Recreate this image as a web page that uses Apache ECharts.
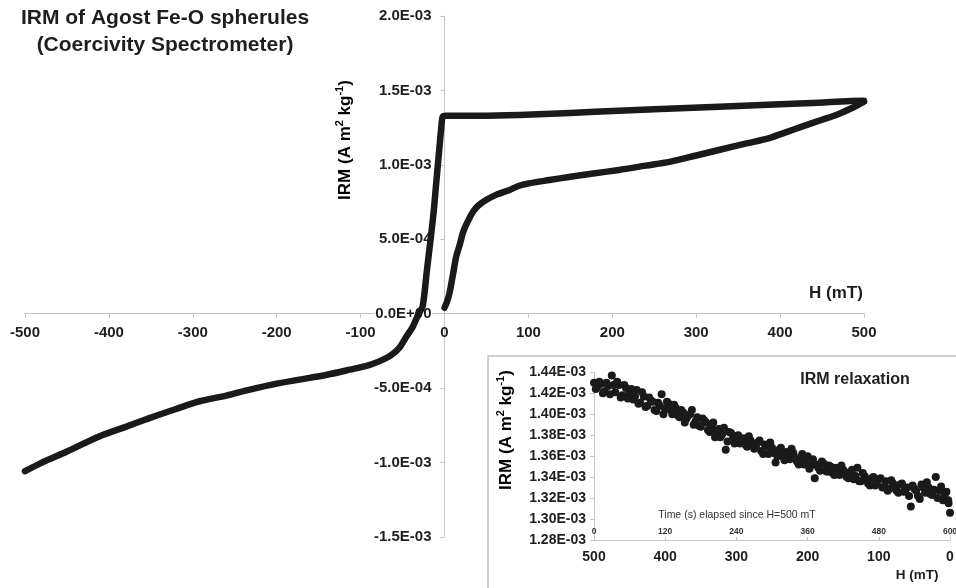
<!DOCTYPE html>
<html>
<head>
<meta charset="utf-8">
<script src="https://cdn.jsdelivr.net/npm/echarts@6/dist/echarts.min.js"></script>
<style>html,body{margin:0;padding:0;background:#fff}#c{width:956px;height:588px}</style>
</head>
<body>
<div id="c"></div>
<script>
// IRM values are given in units of 1E-03 A m2 kg-1
// Acquisition branch (0 -> 500 mT)
var acqH   = [0, 3, 6, 10, 14, 18, 22, 26, 30, 34, 40, 50, 62, 77, 89, 100, 125, 150, 175, 208, 240, 268, 300, 327, 360, 387, 410, 426, 450, 467, 485, 500];
var acqIRM = [0.04, 0.08, 0.14, 0.26, 0.385, 0.46, 0.545, 0.60, 0.645, 0.685, 0.725, 0.765, 0.80, 0.83, 0.86, 0.875, 0.898, 0.92, 0.94, 0.966, 0.995, 1.02, 1.063, 1.10, 1.144, 1.18, 1.225, 1.257, 1.303, 1.335, 1.38, 1.425];
// Field sweep branch (500 -> -500 mT)
var swpH   = [500, 480, 446, 400, 327, 250, 208, 150, 89, 40, 10, 2, -2, -4, -6, -10, -13, -17, -21, -26, -30, -34, -38, -45, -54, -64, -74, -90, -113, -140, -173, -200, -232, -260, -292, -320, -351, -380, -411, -450, -480, -500];
var swpIRM = [1.43, 1.428, 1.418, 1.407, 1.39, 1.373, 1.364, 1.349, 1.335, 1.33, 1.33, 1.33, 1.325, 1.24, 1.12, 0.87, 0.68, 0.48, 0.29, 0.05, 0.01, -0.04, -0.09, -0.15, -0.23, -0.28, -0.31, -0.345, -0.376, -0.41, -0.443, -0.47, -0.51, -0.55, -0.588, -0.64, -0.70, -0.76, -0.823, -0.926, -1.0, -1.058];
// Relaxation inset, readings at whole 5 mT steps (500 -> 0)
var relaxH = [500,495,490,485,480,475,470,465,460,455,450,445,440,435,430,425,420,415,410,405,400,395,390,385,380,375,370,365,360,355,350,345,340,335,330,325,320,315,310,305,300,295,290,285,280,275,270,265,260,255,250,245,240,235,230,225,220,215,210,205,200,195,190,185,180,175,170,165,160,155,150,145,140,135,130,125,120,115,110,105,100,95,90,85,80,75,70,65,60,55,50,45,40,35,30,25,20,15,10,5,2,0];
var relaxIRM = [1.430,1.426,1.429,1.422,1.427,1.437,1.421,1.428,1.418,1.425,1.420,1.414,1.423,1.411,1.417,1.408,1.413,1.404,1.411,1.419,1.405,1.410,1.400,1.406,1.397,1.402,1.396,1.400,1.390,1.397,1.388,1.394,1.385,1.389,1.378,1.386,1.381,1.366,1.383,1.376,1.379,1.372,1.377,1.369,1.375,1.367,1.373,1.365,1.371,1.362,1.368,1.354,1.366,1.360,1.364,1.357,1.363,1.355,1.359,1.352,1.360,1.351,1.339,1.349,1.355,1.346,1.351,1.344,1.349,1.342,1.347,1.340,1.345,1.338,1.349,1.336,1.341,1.334,1.339,1.332,1.338,1.330,1.336,1.329,1.334,1.327,1.333,1.326,1.330,1.312,1.329,1.322,1.333,1.325,1.330,1.323,1.340,1.327,1.318,1.326,1.315,1.306];
// Relaxation inset, readings at half steps (497.5 -> 2.5)
var relaxH2 = [497.5,492.5,487.5,482.5,477.5,472.5,467.5,462.5,457.5,452.5,447.5,442.5,437.5,432.5,427.5,422.5,417.5,412.5,407.5,402.5,397.5,392.5,387.5,382.5,377.5,372.5,367.5,362.5,357.5,352.5,347.5,342.5,337.5,332.5,327.5,322.5,317.5,312.5,307.5,302.5,297.5,292.5,287.5,282.5,277.5,272.5,267.5,262.5,257.5,252.5,247.5,242.5,237.5,232.5,227.5,222.5,217.5,212.5,207.5,202.5,197.5,192.5,187.5,182.5,177.5,172.5,167.5,162.5,157.5,152.5,147.5,142.5,137.5,132.5,127.5,122.5,117.5,112.5,107.5,102.5,97.5,92.5,87.5,82.5,77.5,72.5,67.5,62.5,57.5,52.5,47.5,42.5,37.5,32.5,27.5,22.5,17.5,12.5,7.5,2.5];
var relaxIRM2 = [1.424,1.431,1.420,1.430,1.419,1.428,1.431,1.416,1.428,1.415,1.424,1.417,1.410,1.421,1.407,1.416,1.412,1.403,1.408,1.400,1.412,1.404,1.409,1.399,1.404,1.392,1.399,1.404,1.393,1.389,1.396,1.392,1.383,1.392,1.384,1.378,1.387,1.374,1.382,1.372,1.380,1.376,1.371,1.379,1.372,1.368,1.375,1.362,1.369,1.373,1.363,1.360,1.368,1.356,1.362,1.367,1.358,1.352,1.362,1.356,1.348,1.357,1.352,1.346,1.353,1.345,1.350,1.342,1.348,1.351,1.343,1.339,1.347,1.341,1.336,1.344,1.338,1.332,1.340,1.335,1.339,1.331,1.327,1.337,1.331,1.325,1.334,1.328,1.322,1.332,1.327,1.319,1.330,1.335,1.324,1.328,1.320,1.331,1.323,1.318];

// Tick labels
var mainYTicks  = [-1.5, -1.0, -0.5, 0, 0.5, 1.0, 1.5, 2.0];
var mainYLabels = ['-1.5E-03', '-1.0E-03', '-5.0E-04', '0.0E+00', '5.0E-04', '1.0E-03', '1.5E-03', '2.0E-03'];
var insetYTicks  = [1.28, 1.30, 1.32, 1.34, 1.36, 1.38, 1.40, 1.42, 1.44];
var insetYLabels = ['1.28E-03', '1.30E-03', '1.32E-03', '1.34E-03', '1.36E-03', '1.38E-03', '1.40E-03', '1.42E-03', '1.44E-03'];

function pick(ticks, labels) {
  return function (v) {
    for (var i = 0; i < ticks.length; i++) if (Math.abs(ticks[i] - v) < 1e-6) return labels[i];
    return '';
  };
}
function zip(a, b) { return a.map(function (x, i) { return [x, b[i]]; }); }

var FF = '"Liberation Sans", Arial, sans-serif';
var AX = '#c6c6c6';
var TXT = '#1e1e1e';

// main grid geometry
var G = { left: 25, right: 92, top: 16, bottom: 51 };
var W = 956, H = 588;
var gW = W - G.left - G.right, gH = H - G.top - G.bottom;
var xMin = -500, xMax = 500, yMin = -1.5, yMax = 2.0;
var yAxisOffset = -gW * (0 - xMin) / (xMax - xMin);   // move y axis to H = 0
var xAxisOffset = -gH * (0 - yMin) / (yMax - yMin);   // move x axis to IRM = 0

var chart = echarts.init(document.getElementById('c'), null, { renderer: 'canvas' });
chart.setOption({
  animation: false,
  backgroundColor: '#fff',
  grid: [
    { left: G.left, right: G.right, top: G.top, bottom: G.bottom, outerBoundsMode: 'none', containLabel: false },
    { left: 594, right: 6, top: 372.3, bottom: 48, outerBoundsMode: 'none', containLabel: false },
    { left: 594, right: 6, top: 372.3, bottom: 48, outerBoundsMode: 'none', containLabel: false }
  ],
  xAxis: [
    { type: 'value', gridIndex: 0, min: xMin, max: xMax, interval: 100, position: 'bottom', offset: xAxisOffset,
      axisLine: { onZero: false, lineStyle: { color: AX } },
      axisTick: { length: 4, lineStyle: { color: AX } },
      axisLabel: { fontSize: 15, fontWeight: 'bold', fontFamily: FF, color: TXT, margin: 12 },
      splitLine: { show: false } },
    { type: 'value', gridIndex: 1, min: 0, max: 500, interval: 100, inverse: true,
      axisLine: { onZero: false, lineStyle: { color: AX } },
      axisTick: { show: false },
      axisLabel: { fontSize: 14, fontWeight: 'bold', fontFamily: FF, color: TXT, margin: 10 },
      splitLine: { show: false } },
    { type: 'value', gridIndex: 2, min: 0, max: 600, interval: 120, position: 'bottom',
      axisLine: { show: false },
      axisTick: { show: true, inside: true, length: 3, lineStyle: { color: AX } },
      axisLabel: { inside: true, fontSize: 8.5, fontWeight: 'bold', fontFamily: FF, color: '#333', margin: 4 },
      splitLine: { show: false } }
  ],
  yAxis: [
    { type: 'value', gridIndex: 0, min: yMin, max: yMax, interval: 0.5, position: 'left', offset: yAxisOffset,
      axisLine: { show: true, onZero: false, lineStyle: { color: AX } },
      axisTick: { show: true, length: 4, lineStyle: { color: AX } },
      axisLabel: { fontSize: 15, fontWeight: 'bold', fontFamily: FF, color: TXT, margin: 12,
        formatter: pick(mainYTicks, mainYLabels), backgroundColor: '#fff', padding: [1, 1] },
      splitLine: { show: false } },
    { type: 'value', gridIndex: 1, min: 1.28, max: 1.44, interval: 0.02,
      axisLine: { show: true, onZero: false, lineStyle: { color: AX } },
      axisTick: { show: true, length: 4, lineStyle: { color: AX } },
      axisLabel: { fontSize: 14, fontWeight: 'bold', fontFamily: FF, color: TXT, margin: 8,
        formatter: pick(insetYTicks, insetYLabels) },
      splitLine: { show: false } },
    { type: 'value', gridIndex: 2, min: 0, max: 1, show: false }
  ],
  series: [
    { type: 'line', xAxisIndex: 0, yAxisIndex: 0, data: zip(acqH, acqIRM), symbol: 'none', smooth: 0.3,
      lineStyle: { color: '#1a1a1a', width: 6.5, cap: 'round', join: 'round' }, z: 3 },
    { type: 'line', xAxisIndex: 0, yAxisIndex: 0, data: zip(swpH, swpIRM), symbol: 'none', smooth: 0.3,
      lineStyle: { color: '#1a1a1a', width: 6.5, cap: 'round', join: 'round' }, z: 3 },
    { type: 'scatter', xAxisIndex: 1, yAxisIndex: 1, data: zip(relaxH, relaxIRM), symbol: 'circle', symbolSize: 8,
      itemStyle: { color: '#1a1a1a', opacity: 1 }, z: 3 },
    { type: 'scatter', xAxisIndex: 1, yAxisIndex: 1, data: zip(relaxH2, relaxIRM2), symbol: 'circle', symbolSize: 8,
      itemStyle: { color: '#1a1a1a', opacity: 1 }, z: 3 }
  ],
  graphic: [
    { type: 'rect', z: -1, shape: { x: 488, y: 356, width: 500, height: 260 },
      style: { fill: '#fff', stroke: '#bdbdbd', lineWidth: 1.5 } },
    { type: 'text', x: 165, y: 18, style: { text: 'IRM of Agost Fe-O spherules', font: 'bold 21px ' + FF, fill: TXT, align: 'center', verticalAlign: 'middle' } },
    { type: 'text', x: 165, y: 45, style: { text: '(Coercivity Spectrometer)', font: 'bold 21px ' + FF, fill: TXT, align: 'center', verticalAlign: 'middle' } },
    { type: 'text', x: 345, y: 140, rotation: Math.PI / 2,
      style: { text: '{a|IRM (A m}{s|2}{a| kg}{s|-1}{a|)}', align: 'center', verticalAlign: 'middle',
        rich: { a: { fontSize: 17, fontWeight: 'bold', fontFamily: FF, color: TXT, lineHeight: 22 },
                s: { fontSize: 11, fontWeight: 'bold', fontFamily: FF, color: TXT, verticalAlign: 'top' } } } },
    { type: 'text', x: 836, y: 293, style: { text: 'H (mT)', font: 'bold 17px ' + FF, fill: TXT, align: 'center', verticalAlign: 'middle' } },
    { type: 'text', x: 855, y: 380, z: 10, style: { text: 'IRM relaxation', font: 'bold 16px ' + FF, fill: TXT, align: 'center', verticalAlign: 'middle' } },
    { type: 'text', x: 506, y: 430, rotation: Math.PI / 2,
      style: { text: '{a|IRM (A m}{s|2}{a| kg}{s|-1}{a|)}', align: 'center', verticalAlign: 'middle',
        rich: { a: { fontSize: 17, fontWeight: 'bold', fontFamily: FF, color: TXT, lineHeight: 22 },
                s: { fontSize: 11, fontWeight: 'bold', fontFamily: FF, color: TXT, verticalAlign: 'top' } } } },
    { type: 'text', x: 917, y: 575, style: { text: 'H (mT)', font: 'bold 13.5px ' + FF, fill: TXT, align: 'center', verticalAlign: 'middle' } },
    { type: 'text', x: 737, y: 515, z: 10, style: { text: 'Time (s) elapsed since H=500 mT', font: '10.5px ' + FF, fill: '#333', align: 'center', verticalAlign: 'middle' } }
  ]
});
</script>
</body>
</html>
